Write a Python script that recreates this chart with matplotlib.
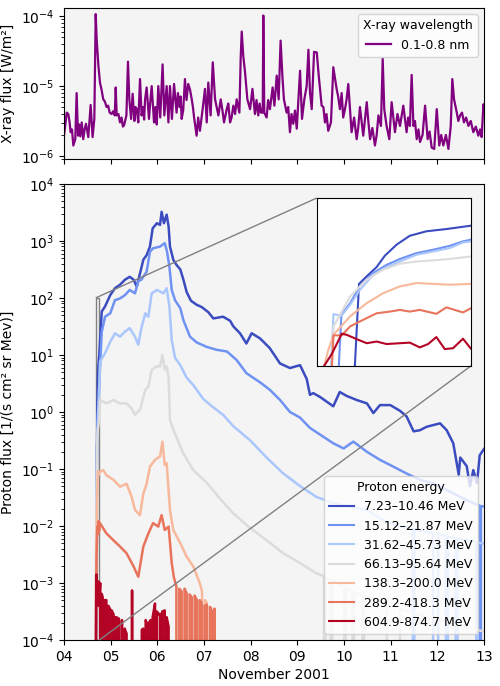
import numpy as np
import pandas as pd
import matplotlib
matplotlib.use("Agg")
import matplotlib.pyplot as plt
import matplotlib.dates as mdates
from mpl_toolkits.axes_grid1.inset_locator import mark_inset

START = pd.Timestamp("2001-11-04")
ZERO = -np.inf  # no counts -> flux 0 (clipped on log axis)

# GOES X-ray 0.1-0.8 nm: hours after 2001-11-04 00:00, log10 flux [W/m^2]
xray_hours = [0.0, 1.4, 2.2, 2.8, 3.4, 4.1, 4.8, 5.8, 6.5, 7.2,
              7.8, 8.4, 9.1, 9.9, 10.6, 11.3, 12.5, 13.7, 14.7, 15.6,
              16.3, 16.8, 17.7, 18.5, 19.3, 20.2, 21.0, 21.9, 22.7, 23.5,
              24.5, 25.3, 26.1, 26.6, 27.1, 28.0, 28.8, 29.6, 30.3, 30.9,
              32.1, 32.9, 33.6, 34.5, 35.3, 36.2, 36.8, 37.4, 38.2, 39.1,
              39.9, 40.7, 41.2, 41.7, 42.5, 43.7, 44.3, 45.1, 46.3, 47.0,
              47.7, 48.5, 49.5, 50.7, 51.6, 52.8, 53.7, 54.5, 55.5, 56.6,
              57.9, 58.6, 59.4, 60.0, 60.5, 61.3, 62.2, 63.0, 63.9, 64.8,
              65.7, 66.3, 67.0, 68.2, 69.0, 69.9, 71.3, 72.5, 73.4, 74.2,
              75.4, 76.5, 77.7, 78.5, 79.4, 80.6, 81.5, 82.3, 83.7, 84.5,
              85.4, 86.2, 87.1, 88.0, 88.8, 90.2, 90.9, 91.4, 92.2, 93.1,
              94.3, 95.7, 96.9, 98.2, 99.0, 99.9, 100.6, 101.3, 102.2, 102.5,
              103.0, 104.2, 105.0, 105.9, 107.3, 108.2, 109.4, 110.4, 111.4, 112.3,
              113.1, 114.5, 115.3, 116.2, 117.0, 117.9, 118.8, 119.7, 121.4, 122.4,
              123.6, 124.8, 125.7, 126.5, 127.4, 128.6, 130.0, 131.0, 132.5, 133.4,
              134.2, 135.0, 135.9, 137.3, 138.5, 140.2, 141.0, 141.9, 142.8, 143.6,
              144.5, 145.3, 146.2, 147.9, 149.2, 150.5, 151.3, 152.2, 153.9, 155.7,
              156.5, 157.4, 158.6, 159.9, 160.8, 161.7, 163.0, 163.9, 164.7, 165.9,
              167.3, 168.5, 170.2, 171.5, 172.8, 174.5, 176.2, 177.0, 177.9, 178.8,
              179.7, 180.5, 181.4, 182.3, 183.1, 184.4, 185.7, 187.0, 188.0, 189.1,
              190.4, 191.7, 193.0, 194.0, 195.1, 196.4, 197.7, 198.9, 199.7, 200.6,
              202.0, 202.8, 203.7, 204.7, 205.7, 206.8, 208.0, 209.2, 210.5, 211.8,
              213.1, 214.0, 214.8, 215.7, 216.0]
xray_log = [-5.71, -5.38, -5.40, -5.50, -5.66, -5.62, -5.85, -5.76, -5.10, -5.71,
            -5.55, -5.72, -5.52, -5.76, -5.62, -5.54, -5.73, -5.27, -5.73, -5.47,
            -3.97, -4.33, -4.71, -4.95, -5.05, -5.19, -5.22, -5.30, -5.28, -5.38,
            -5.40, -5.36, -5.42, -5.02, -5.42, -5.40, -5.52, -5.45, -5.58, -5.56,
            -5.42, -4.65, -5.19, -5.47, -5.11, -5.50, -5.30, -5.33, -5.52, -4.90,
            -5.42, -5.30, -5.48, -5.19, -5.02, -5.47, -5.25, -5.00, -5.52, -5.30,
            -5.55, -5.00, -5.45, -4.69, -5.42, -5.00, -5.52, -5.00, -5.47, -4.97,
            -5.38, -5.10, -5.30, -5.15, -5.47, -5.35, -4.90, -5.20, -4.97, -5.05,
            -5.19, -5.30, -5.47, -5.71, -5.45, -5.64, -5.33, -5.04, -5.52, -4.95,
            -5.42, -4.66, -5.19, -5.30, -5.42, -5.19, -5.35, -5.52, -5.33, -5.25,
            -5.52, -5.45, -5.28, -5.40, -5.19, -5.38, -4.57, -4.22, -4.57, -4.80,
            -5.19, -5.33, -5.04, -5.40, -5.20, -5.42, -5.25, -5.38, -5.38, -3.99,
            -5.38, -5.45, -5.20, -5.33, -5.02, -5.28, -4.85, -5.19, -4.35, -4.85,
            -5.19, -5.38, -5.30, -5.66, -5.40, -5.54, -5.35, -5.61, -4.78, -5.47,
            -5.19, -5.00, -4.48, -5.09, -5.33, -4.51, -4.52, -4.85, -5.28, -5.30,
            -5.52, -5.40, -5.64, -5.52, -4.73, -5.04, -5.15, -5.33, -5.10, -5.45,
            -5.33, -5.20, -4.97, -5.66, -5.45, -5.76, -5.60, -5.30, -5.71, -5.23,
            -5.50, -5.76, -5.60, -5.85, -5.70, -5.42, -5.57, -4.61, -5.33, -5.57,
            -5.76, -5.23, -5.66, -5.40, -5.57, -5.28, -5.66, -5.45, -5.57, -4.84,
            -5.57, -5.50, -5.76, -5.62, -5.80, -5.70, -5.28, -5.76, -5.65, -5.88,
            -5.90, -5.33, -5.85, -5.70, -5.85, -5.70, -5.90, -5.57, -4.90, -5.19,
            -5.38, -5.50, -5.42, -5.38, -5.52, -5.45, -5.57, -5.50, -5.66, -5.58,
            -5.71, -5.62, -5.73, -5.26, -5.33]

# GOES proton channels: hours after 2001-11-04 00:00, log10 flux [1/(s cm2 sr MeV)]
p1_hours = [0.0, 16.835, 16.926, 17.044, 17.143, 17.281, 17.439, 17.637, 17.874, 18.167,
            19.4, 21.1, 23.8, 26.2, 28.8, 31.4, 33.8, 35.8, 37.4, 39.1,
            40.8, 42.5, 44.2, 45.6, 47.8, 49.4, 50.2, 51.4, 52.8, 53.8,
            54.5, 56.2, 57.8, 59.8, 61.4, 63.1, 65.3, 68.2, 70.8, 74.2,
            76.8, 81.8, 85.4, 87.1, 90.5, 93.8, 96.5, 100.8, 105.8, 111.1,
            116.2, 121.4, 124.8, 126.5, 128.2, 131.8, 135.1, 138.5, 141.8, 145.4,
            150.5, 155.8, 159.1, 162.5, 167.8, 172.8, 176.2, 179.8, 183.1, 186.5,
            193.4, 196.8, 200.2, 203.0, 203.8, 207.1, 208.8, 210.5, 212.4, 213.8,
            216.0]
p1_log = [ZERO, -1.07, -0.80, -0.47, -0.06, 0.33, 0.65, 0.81, 0.89, 1.01,
          1.76, 1.85, 2.05, 2.17, 2.23, 2.32, 2.37, 2.32, 2.20, 2.43,
          2.67, 2.75, 2.90, 3.22, 3.31, 3.28, 3.51, 3.31, 3.46, 3.25,
          2.90, 2.67, 2.58, 2.50, 2.32, 2.10, 1.95, 1.88, 1.84, 1.75,
          1.64, 1.67, 1.60, 1.50, 1.38, 1.20, 1.38, 1.29, 1.12, 0.85,
          0.77, 0.82, 0.58, 0.30, 0.33, 0.26, 0.18, 0.10, 0.35, 0.28,
          0.21, 0.15, -0.02, 0.12, 0.12, 0.02, -0.08, -0.34, -0.32, -0.26,
          -0.20, -0.32, -0.55, -1.10, -0.80, -0.95, -1.30, -1.02, -1.25, -0.76,
          -0.65]

p2_hours = [0.0, 16.625, 16.729, 16.847, 17.005, 17.163, 17.321, 17.519, 17.716, 17.914,
            18.072, 18.167, 19.4, 21.1, 23.8, 26.2, 28.8, 31.4, 33.8, 36.5,
            38.2, 39.8, 42.5, 44.2, 45.8, 49.4, 51.8, 53.0, 54.2, 55.4,
            57.1, 59.8, 61.4, 64.8, 68.2, 73.4, 78.5, 83.8, 88.8, 93.8,
            100.8, 105.8, 111.1, 116.2, 121.4, 126.5, 131.8, 138.5, 143.8, 148.8,
            155.8, 162.5, 169.4, 176.2, 183.1, 189.8, 196.8, 203.8, 210.5, 213.6,
            214.0, 214.4, 216.0]
p2_log = [ZERO, -2.17, -1.76, -1.14, -0.68, -0.39, -0.18, 0.03, 0.15, 0.29,
          0.45, 0.51, 1.40, 1.67, 1.73, 1.96, 1.99, 2.05, 2.14, 2.08,
          2.29, 2.32, 2.46, 2.81, 2.87, 2.90, 2.96, 2.81, 2.55, 2.14,
          1.96, 1.82, 1.61, 1.32, 1.22, 1.14, 1.09, 1.06, 0.91, 0.68,
          0.52, 0.39, 0.21, 0.00, -0.10, -0.28, -0.40, -0.55, -0.64, -0.52,
          -0.70, -0.84, -0.96, -1.08, -1.19, -1.25, -1.37, -1.49, -1.60, -1.64,
          ZERO, -1.65, -1.66]

p3_hours = [0.0, 16.531, 16.625, 16.729, 16.847, 17.005, 17.163, 17.321, 17.519, 17.716,
            17.914, 18.072, 18.167, 18.5, 21.1, 23.8, 26.2, 28.8, 31.4, 33.8,
            36.5, 38.2, 39.8, 41.8, 43.4, 45.1, 47.8, 51.1, 52.8, 54.2,
            55.4, 57.1, 59.8, 63.1, 66.5, 71.8, 76.8, 81.8, 87.1, 95.8,
            104.2, 112.8, 121.4, 129.8, 138.5, 147.1, 155.8, 164.2, 172.8, 179.4,
            179.8, 180.2, 181.4, 189.8, 191.8, 192.4, 196.4, 196.8, 197.4, 201.4,
            201.8, 202.4, 207.1, 212.0, 212.4, 212.8, 216.0]
p3_log = [ZERO, -2.15, -2.21, -1.82, -1.28, -0.74, -0.47, -0.27, -0.03, 0.09,
          0.21, 0.41, 0.45, 0.88, 1.03, 1.23, 1.38, 1.32, 1.41, 1.47,
          1.32, 1.18, 1.47, 1.73, 1.67, 2.08, 2.14, 2.08, 2.17, 1.85,
          1.26, 0.95, 0.82, 0.60, 0.47, 0.22, 0.08, -0.05, -0.25, -0.50,
          -0.80, -1.08, -1.30, -1.49, -1.60, -1.66, -1.72, -1.90, -2.01, -2.05,
          ZERO, -2.05, -2.07, -2.13, ZERO, -2.14, -2.18, ZERO, -2.19, -2.21,
          ZERO, -2.22, -2.25, -2.28, ZERO, -2.29, -2.31]

p4_hours = [0.0, 16.531, 16.729, 16.926, 17.123, 17.321, 17.519, 17.716, 17.914, 18.167,
            18.5, 21.8, 25.4, 28.8, 32.2, 34.8, 36.5, 39.1, 41.8, 43.4,
            45.1, 47.8, 49.4, 50.6, 51.8, 52.8, 53.8, 54.5, 56.2, 61.4,
            66.5, 73.4, 80.2, 87.1, 94.8, 104.2, 112.8, 121.4, 129.8, 133.7,
            134.1, 134.5, 137.1, 137.5, 137.9, 138.5, 144.1, 144.5, 144.9, 147.1,
            148.4, 148.8, 149.2, 153.5, 153.9, 154.3, 155.8, 164.2, 166.0, 166.4,
            172.8, 181.4, 189.8, 198.5, 207.1, 216.0]
p4_log = [ZERO, -2.59, -1.52, -0.92, -0.56, -0.35, -0.27, -0.23, -0.18, -0.09,
          0.21, 0.15, 0.21, 0.15, 0.15, 0.06, -0.05, 0.04, 0.39, 0.44,
          0.74, 0.80, 0.80, 1.00, 0.74, 0.80, 0.60, -0.14, -0.31, -0.73,
          -1.02, -1.24, -1.52, -1.78, -2.01, -2.25, -2.48, -2.65, -2.83, -2.88,
          ZERO, -2.90, -2.94, ZERO, -2.95, -2.96, -3.08, ZERO, -3.10, -3.12,
          -3.15, ZERO, -3.17, -3.22, ZERO, -3.23, -3.24, -3.35, -3.38, ZERO,
          -3.45, -3.55, -3.62, -3.70, -3.78, -3.85]

p5_hours = [0.0, 16.42, 16.47, 16.531, 16.729, 16.926, 17.123, 17.321, 17.519, 17.716,
            17.914, 18.167, 18.5, 20.2, 21.8, 25.4, 28.8, 32.2, 34.8, 36.5,
            39.1, 40.8, 42.5, 44.2, 46.8, 49.4, 50.6, 51.8, 52.8, 54.5,
            56.2, 59.8, 63.1, 66.5, 69.8, 71.0, 71.6, 72.5, 73.4, 74.0,
            75.1, 76.0, 76.5, 77.2, 77.8]
p5_log = [ZERO, -4.00, -3.43, -2.89, -2.23, -1.76, -1.40, -1.16, -1.04, -1.07,
          -1.10, -1.07, -1.05, -1.02, -1.11, -1.19, -1.31, -1.26, -1.49, -1.72,
          -1.81, -1.43, -1.26, -0.96, -0.84, -0.78, -0.52, -0.93, -0.90, -1.72,
          -2.07, -2.30, -2.54, -2.71, -3.00, -3.15, ZERO, -3.30, -3.35, ZERO,
          -3.42, -3.60, ZERO, -3.50, ZERO]

p6_hours = [0.0, 16.531, 16.63, 16.729, 16.847, 17.044, 17.202, 17.321, 17.439, 17.558,
            17.755, 17.874, 18.072, 18.167, 18.5, 21.8, 25.4, 28.8, 32.2, 35.8,
            38.2, 40.8, 43.4, 45.8, 48.5, 50.2, 51.8, 53.8, 55.4, 56.5,
            57.8, 58.5, 59.3, 60.5, 61.2, 62.0, 63.1, 63.8, 64.6, 65.7,
            66.4, 67.2, 68.4, 69.0, 69.8, 70.8, 71.5, 72.3, 73.5, 74.2,
            75.1, 76.2, 76.8, 77.4, 77.8]
p6_log = [ZERO, -2.91, -2.91, -2.59, -2.41, -2.12, -2.06, -2.00, -2.06, -2.00,
          -2.14, -1.91, -2.09, -1.94, -1.95, -2.13, -2.25, -2.36, -2.48, -2.71,
          -2.89, -2.36, -2.13, -1.95, -2.01, -1.81, -2.07, -2.01, -2.65, -2.90,
          -3.06, ZERO, -3.10, -3.15, ZERO, -3.10, -3.18, ZERO, -3.20, -3.25,
          ZERO, -3.22, -3.30, ZERO, -3.30, -3.35, ZERO, -3.40, -3.38, ZERO,
          -3.42, -3.50, ZERO, -3.45, ZERO]

p7_hours = [0.0, 16.42, 16.512, 16.63, 16.688, 16.827, 16.927, 17.045, 17.163, 17.322,
            17.44, 17.558, 17.657, 17.755, 17.855, 17.953, 18.072, 18.167, 18.6, 19.0,
            19.4, 19.9, 20.3, 20.8, 21.8, 22.3, 22.8, 23.6, 24.0, 24.5,
            25.5, 26.0, 26.5, 27.1, 27.6, 28.2, 29.0, 29.8, 30.5, 31.2,
            32.2, 32.6, 34.8, 35.0, 35.2, 39.5, 40.0, 40.8, 41.3, 42.0,
            42.5, 43.0, 43.6, 44.5, 45.1, 45.6, 46.8, 47.3, 47.8, 48.6,
            49.4, 49.9, 50.5, 51.8, 52.3, 52.8, 53.8, 54.5]
p7_log = [ZERO, -4.00, -3.57, -2.85, -2.89, -3.07, -3.19, -3.13, -3.22, -3.19,
          -3.17, -3.34, -3.22, -2.97, -3.40, -3.37, -3.03, -3.39, -3.00, ZERO,
          -3.19, -3.25, ZERO, -3.30, -3.30, ZERO, -3.40, -3.45, ZERO, -3.48,
          -3.55, ZERO, -3.60, -3.60, ZERO, -3.62, ZERO, -3.65, ZERO, -3.80,
          -3.89, ZERO, ZERO, -3.13, ZERO, ZERO, -3.82, -3.80, ZERO, -3.65,
          -3.70, ZERO, -3.70, -3.65, ZERO, -3.60, -3.36, ZERO, -3.50, -3.55,
          -3.54, ZERO, -3.50, -3.48, ZERO, -3.60, -3.77, ZERO]

proton_labels = ["7.23–10.46 MeV", "15.12–21.87 MeV", "31.62–45.73 MeV",
                 "66.13–95.64 MeV", "138.3–200.0 MeV", "289.2-418.3 MeV",
                 "604.9-874.7 MeV"]
proton_hours = [p1_hours, p2_hours, p3_hours, p4_hours, p5_hours, p6_hours, p7_hours]
proton_log = [p1_log, p2_log, p3_log, p4_log, p5_log, p6_log, p7_log]


def to_time(hours):
    return (START + pd.to_timedelta(np.asarray(hours), unit="h")).to_numpy()


bg = "#f4f4f4"
colors = plt.cm.coolwarm(np.linspace(0, 1, 7))

fig = plt.figure(figsize=(5, 6.86), dpi=100)
ax_x = fig.add_axes([0.128, 0.768, 0.84, 0.220], facecolor=bg)
ax_p = fig.add_axes([0.128, 0.067, 0.84, 0.665], facecolor=bg, sharex=ax_x)

# X-ray panel
ax_x.plot(to_time(xray_hours), np.power(10.0, xray_log), color="purple", lw=1.6,
          label="0.1-0.8 nm")
ax_x.set_yscale("log")
ax_x.set_ylim(9e-7, 1.3e-4)
ax_x.set_ylabel("X-ray flux [W/m²]")
ax_x.legend(title="X-ray wavelength", loc="upper right", fontsize=9, title_fontsize=9)
ax_x.tick_params(labelbottom=False)

# proton panel + zoom on the onset
axins = ax_p.inset_axes([0.602, 0.601, 0.367, 0.368])
axins.set_facecolor("white")
for hrs, lg, c, lab in zip(proton_hours, proton_log, colors, proton_labels):
    t = to_time(hrs)
    f = np.power(10.0, np.array(lg))
    ax_p.plot(t, f, color=c, lw=1.8, label=lab)
    axins.plot(t, f, color=c, lw=1.5)

ax_p.set_yscale("log")
ax_p.set_ylim(1e-4, 1e4)
ax_p.set_xlim(to_time([0.0])[0], to_time([216.0])[0])
ax_p.xaxis.set_major_locator(mdates.DayLocator())
ax_p.xaxis.set_major_formatter(mdates.DateFormatter("%d"))
ax_p.set_xlabel("November 2001", labelpad=3)
ax_p.set_ylabel("Proton flux [1/(s cm² sr Mev)]")
leg = ax_p.legend(title="Proton energy", loc="lower right", fontsize=9, title_fontsize=9)
for h in leg.legend_handles:
    h.set_linewidth(1.5)

axins.set_yscale("log")
axins.set_ylim(1e-4, 1e2)
axins.set_xlim(to_time([16.333])[0], to_time([18.167])[0])
axins.tick_params(which="both", bottom=False, left=False,
                  labelbottom=False, labelleft=False)
mark_inset(ax_p, axins, loc1=2, loc2=4, fc="none", ec="0.5")

fig.savefig("out.png", dpi=100)
